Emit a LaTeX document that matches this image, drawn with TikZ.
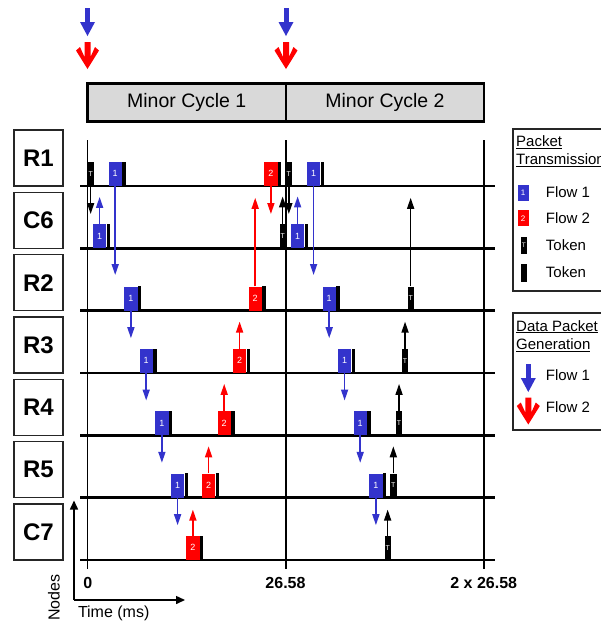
\documentclass[tikz,border=0pt]{standalone}
\usepackage{fontspec}
\setmainfont{Liberation Sans}
\usetikzlibrary{arrows.meta}

\definecolor{flowblue}{RGB}{51,51,204}
\definecolor{flowred}{RGB}{255,0,0}
\definecolor{cyclegray}{RGB}{217,217,217}

% data packet: coloured body with a black trailing strip
% #1 name, #2 colour, #3 left x, #4 baseline y, #5 label
\newcommand{\datapkt}[5]{%
  \node[pkt, fill=#2] (#1) at (#3,#4) {#5};
  \fill (#1.south east) rectangle ([xshift=3.6pt]#1.north east);
}
% token packet: #1 name, #2 left x, #3 baseline y
\newcommand{\tokpkt}[3]{%
  \node[tok] (#1) at (#2,#3) {T};
}

\tikzset{
  rowline/.style={line width=2.4pt, black},
  cycleline/.style={line width=2.6pt, black},
  rowbox/.style={draw=black!85, line width=1.6pt, minimum width=49pt, minimum height=56pt,
    inner sep=0pt, font=\fontsize{24}{26}\selectfont\bfseries},
  cyclebox/.style={draw, fill=cyclegray, line width=2.6pt},
  cyclelabel/.style={font=\fontsize{19.5}{22}\selectfont},
  pkt/.style={anchor=south west, minimum width=13.4pt, minimum height=24pt, inner sep=0pt,
    text=white, font=\fontsize{9}{10}\selectfont},
  tok/.style={anchor=south west, fill=black, minimum width=6.3pt, minimum height=24pt,
    inner sep=0pt, text=white, font=\fontsize{7}{8}\selectfont},
  sig/.style={line width=1.6pt, -{Triangle[width=7pt,length=11pt]}},
  ticklabel/.style={font=\fontsize{16}{18}\selectfont\bfseries},
  axislabel/.style={font=\fontsize{16}{18}\selectfont},
  legtext/.style={anchor=west, inner sep=0pt, font=\fontsize{15}{17}\selectfont},
  legbox/.style={draw=black!85, line width=1.8pt},
  legpkt/.style={anchor=south west, minimum width=11.4pt, minimum height=16pt, inner sep=0pt,
    text=white, font=\fontsize{8}{9}\selectfont},
  legtok/.style={anchor=south west, fill=black, minimum width=6pt, minimum height=17pt,
    inner sep=0pt, text=white, font=\fontsize{6.5}{7}\selectfont},
  pics/bluegen/.style={code={
    \draw[flowblue, line width=5pt] (0,0) -- (0,15);
    \fill[flowblue] (-7.5,14) -- (7.5,14) -- (0,28) -- cycle;
  }},
  pics/redgen/.style={code={
    \fill[flowred] (-3,0) -- (3,0) -- (3,15) -- (7.5,5) -- (11.5,8.5) -- (0,27)
      -- (-11.5,8.5) -- (-7.5,5) -- (-3,15) -- cycle;
  }},
}

\begin{document}
\begin{tikzpicture}[x=1pt, y=-1pt]
\useasboundingbox (0,0) rectangle (601,622);
\clip (0,0) rectangle (601,622);

% packet generation instants
\pic at (87.5,8) {bluegen};
\pic at (87.5,42) {redgen};
\pic at (286,8) {bluegen};
\pic at (286,42) {redgen};

% minor cycles
\draw[cyclebox] (87.5,83.5) rectangle (286,121.5);
\draw[cyclebox] (286,83.5) rectangle (484,121.5);
\node[cyclelabel] (mc1) at (186.7,102.5) {Minor Cycle 1};
\node[cyclelabel] (mc2) at (385,102.5) {Minor Cycle 2};

% time grid
\draw[line width=1.3pt] (87.5,140) -- (87.5,569);
\draw[cycleline] (286,140) -- (286,569);
\draw[cycleline] (484,140) -- (484,569);

% node rows
\foreach \lab [count=\i from 0] in {R1,C6,R2,R3,R4,R5,C7} {
  \pgfmathsetmacro\b{186+62.33*\i}
  \draw[rowline] (80,\b) -- (495,\b);
  \node[rowbox] (row\lab) at (38.5,\b-28) {\lab};
}

% ---- R1 (baseline 186)
\tokpkt{tRa}{87.3}{186}
\datapkt{bRa}{flowblue}{108.3}{186}{1}
\datapkt{rRa}{flowred}{264}{186}{2}
\tokpkt{tRb}{285.5}{186}
\datapkt{bRb}{flowblue}{306.7}{186}{1}

% ---- C6 (baseline 248.3)
\datapkt{bCa}{flowblue}{92.7}{248.3}{1}
\tokpkt{tCb}{279.3}{248.3}
\datapkt{bCb}{flowblue}{290.7}{248.3}{1}

% ---- R2 (baseline 310.7)
\datapkt{bSa}{flowblue}{124}{310.7}{1}
\datapkt{rSa}{flowred}{248.3}{310.7}{2}
\datapkt{bSb}{flowblue}{322.3}{310.7}{1}
\tokpkt{tSb}{407.3}{310.7}

% ---- R3 (baseline 373)
\datapkt{bTa}{flowblue}{139.3}{373}{1}
\datapkt{rTa}{flowred}{232.7}{373}{2}
\datapkt{bTb}{flowblue}{337.7}{373}{1}
\tokpkt{tTb}{401.7}{373}

% ---- R4 (baseline 435.3)
\datapkt{bUa}{flowblue}{155}{435.3}{1}
\datapkt{rUa}{flowred}{217.3}{435.3}{2}
\datapkt{bUb}{flowblue}{353.3}{435.3}{1}
\tokpkt{tUb}{395.7}{435.3}

% ---- R5 (baseline 497.7)
\datapkt{bVa}{flowblue}{170.7}{497.7}{1}
\datapkt{rVa}{flowred}{201.7}{497.7}{2}
\datapkt{bVb}{flowblue}{369}{497.7}{1}
\tokpkt{tVb}{390}{497.7}

% ---- C7 (baseline 560)
\datapkt{rWa}{flowred}{186}{560}{2}
\tokpkt{tWb}{384.3}{560}

% transmissions
\draw[sig] (tRa.south) -- ++(0,28);
\draw[sig, flowblue] (bCa.north) -- ++(0,-27);
\draw[sig, flowblue] (bRa.south) -- ++(0,89);
\draw[sig, flowred] (rRa.south) -- ++(0,28);
\draw[sig, flowred] (rSa.north) -- ++(0,-88.5);
\draw[sig] (tRb.south) -- ++(0,28);
\draw[sig] (tCb.north) -- ++(0,-27.5);
\draw[sig, flowblue] (bCb.north) -- ++(0,-27.5);
\draw[sig, flowblue] (bRb.south) -- ++(0,89);
\draw[sig] (tSb.north) -- ++(0,-88.5);

\draw[sig, flowblue] (bSa.south) -- ++(0,27.5);
\draw[sig, flowblue] (bSb.south) -- ++(0,27.5);
\draw[sig, flowblue] (bTa.south) -- ++(0,27.5);
\draw[sig, flowblue] (bTb.south) -- ++(0,27.5);
\draw[sig, flowblue] (bUa.south) -- ++(0,27.5);
\draw[sig, flowblue] (bUb.south) -- ++(0,27.5);
\draw[sig, flowblue] (bVa.south) -- ++(0,27.5);
\draw[sig, flowblue] (bVb.south) -- ++(0,27.5);

\draw[sig, flowred] (rTa.north) -- ++(0,-27);
\draw[sig] (tTb.north) -- ++(0,-27);
\draw[sig, flowred] (rUa.north) -- ++(0,-27);
\draw[sig] (tUb.north) -- ++(0,-27);
\draw[sig, flowred] (rVa.north) -- ++(0,-27);
\draw[sig] (tVb.north) -- ++(0,-27);
\draw[sig, flowred] (rWa.north) -- ++(0,-26);
\draw[sig] (tWb.north) -- ++(0,-26);

% time axis labels
\node[ticklabel] (t0) at (87.7,582.7) {0};
\node[ticklabel] (t1) at (285.5,582.7) {26.58};
\node[ticklabel] (t2) at (483.7,582.7) {2 x 26.58};

% axes key
\coordinate (ax) at (74,600);
\draw[line width=1.5pt, -{Triangle[width=8pt,length=9pt]}] (ax) -- ++(0,-99.5);
\draw[line width=1.5pt, -{Triangle[width=8pt,length=9pt]}] (ax) -- ++(111,0);
\node[axislabel, rotate=90] (ylab) at (54,597.5) {Nodes};
\node[axislabel] (xlab) at (113.7,613.5) {Time (ms)};

% legend: packet transmission (box runs on past the right edge)
\draw[legbox] (512.7,129) rectangle (630,290.7);
\node[legtext] (lgA) at (516,142.3) {\underline{Packet}};
\node[legtext] (lgB) at (516,160) {\underline{Transmission}};
\node[legpkt, fill=flowblue] (lgb) at (517.3,201) {1};
\node[legpkt, fill=flowred] (lgr) at (517.3,226.5) {2};
\node[legtok] (lgt) at (520.7,254.3) {T};
\fill (520.7,264.3) rectangle (526.7,281.7);
\node[legtext] (lgb1) at (545.7,191.7) {Flow 1};
\node[legtext] (lgr1) at (545.7,218.3) {Flow 2};
\node[legtext] (lgt1) at (545.7,244.8) {Token};
\node[legtext] (lgt2) at (545.7,272.2) {Token};

% legend: data packet generation
\draw[legbox] (512.7,313.3) rectangle (630,430);
\node[legtext] (lgC) at (516,326.7) {\underline{Data Packet}};
\node[legtext] (lgD) at (516,345) {\underline{Generation}};
\pic at (528.3,364) {bluegen};
\pic at (528.3,397.5) {redgen};
\node[legtext] (lgf1) at (545.7,375) {Flow 1};
\node[legtext] (lgf2) at (545.7,406.7) {Flow 2};
\end{tikzpicture}
\end{document}
